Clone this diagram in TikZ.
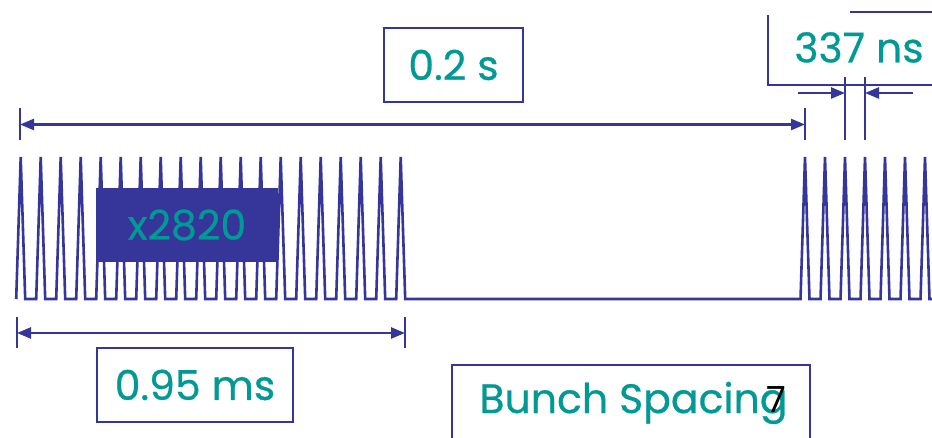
\documentclass[tikz,border=0pt]{standalone}
\usepackage{fontspec}
\setmainfont{Poppins}
\newfontfamily\labelfont{Poppins}[FakeBold=0.6]
\usetikzlibrary{arrows.meta}
\definecolor{pulseblue}{RGB}{54,53,154}
\definecolor{labelteal}{RGB}{0,153,150}
\begin{document}
\begin{tikzpicture}[x=1pt,y=-1pt,
  wave/.style={pulseblue, line width=2.6pt, line join=miter},
  dimtick/.style={pulseblue, line width=2.6pt},
  dimline/.style={pulseblue, line width=2.4pt,
    {Triangle[length=14pt,width=11pt]}-{Triangle[length=14pt,width=11pt]}},
  dimhalf/.style={pulseblue, line width=2.4pt, -{Triangle[length=14pt,width=11pt]}},
  boxline/.style={pulseblue, line width=2.4pt},
  bigtext/.style={text=labelteal, font=\labelfont\fontsize{41}{46}\selectfont, inner sep=0pt},
  labelbox/.style={bigtext, draw=pulseblue, line width=2.4pt, fill=white},
]
\useasboundingbox (0,0) rectangle (932,438);
\clip (0,0) rectangle (932,438);

% bunch train: 20 pulses, long gap, then the next train
\draw[wave] (16.2,299)
  foreach \k in {0,...,19} { -- ({20.7+20*\k},157) -- ({25.2+20*\k},299) -- ({36.2+20*\k},299) }
  -- (800.5,299)
  foreach \k in {0,...,6} { -- ({805+20*\k},157) -- ({809.5+20*\k},299) -- ({820.5+20*\k},299) };

% train period: 0.2 s
\coordinate (tl) at (20,124.5);
\coordinate (tr) at (805,124.5);
\draw[dimtick] (20,108) -- (20,140.5);
\draw[dimtick] (805,108) -- (805,140.5);
\draw[dimline] (tl) -- (tr);
\node[labelbox, minimum width=139pt, minimum height=74pt] (period) at (453.5,65) {0.2 s};

% train length: 0.95 ms
\coordinate (bl) at (17,333);
\coordinate (br) at (405,333);
\draw[dimtick] (17,317) -- (17,348);
\draw[dimtick] (405,317) -- (405,348);
\draw[dimline] (bl) -- (br);
\node[labelbox, minimum width=196pt, minimum height=74pt] (length) at (195,385) {0.95 ms};

% number of bunches
\node[bigtext, fill=pulseblue, minimum width=182pt, minimum height=74pt] (count) at (187,225) {x2820};

% bunch spacing: 337 ns
\draw[boxline] (850,12) -- (940,12);
\draw[boxline] (768,15) -- (768,85) -- (940,85);
\node[bigtext] (spacing) at (859,47.5) {337 ns};
\coordinate (sl) at (845,93);
\coordinate (sr) at (865,93);
\coordinate (slfree) at (798,93);
\coordinate (srfree) at (913,93);
\draw[dimtick] (845,77) -- (845,140.5);
\draw[dimtick] (865,77) -- (865,140.5);
\draw[dimhalf] (slfree) -- (sl);
\draw[dimhalf] (srfree) -- (sr);

% title box
\draw[boxline, fill=white] (452,445) -- (452,365) -- (810,365) -- (810,445);
\node[bigtext, anchor=base] (title) at (633.5,413) {Bunch Spacing};
\node[font=\fontsize{36}{40}\selectfont, inner sep=0pt, anchor=base west] (pagenum) at (766,412) {7};
\end{tikzpicture}
\end{document}
